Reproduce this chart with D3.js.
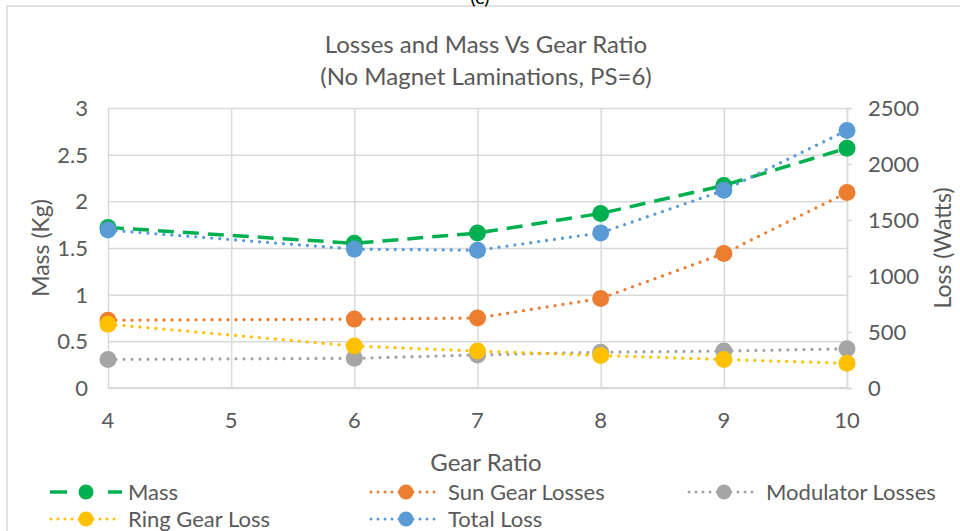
<!DOCTYPE html>
<html>
<head>
<meta charset="utf-8">
<script src="https://cdn.jsdelivr.net/npm/d3@7"></script>
<style>
  body { margin: 0; background: #fff; }
  text { font-family: Lato, "Open Sans", sans-serif; fill: #595959; }
</style>
</head>
<body>
<script>
// gear ratios on the x axis
var gearRatio = [4, 6, 7, 8, 9, 10];
// mass on left axis (kg)
var mass = [1.72, 1.55, 1.66, 1.87, 2.17, 2.57];
// losses on right axis (W)
var sunGearLosses = [605, 615, 625, 800, 1200, 1745];
var modulatorLosses = [255, 265, 295, 320, 330, 350];
var ringGearLoss = [570, 375, 330, 290, 255, 220];
var totalLoss = [1410, 1240, 1230, 1385, 1765, 2300];

var xTicks = [4, 5, 6, 7, 8, 9, 10];
var massTicks = [0, 0.5, 1, 1.5, 2, 2.5, 3];
var lossTicks = [0, 500, 1000, 1500, 2000, 2500];

var W = 960, H = 531;
var plot = {left: 108, right: 847, top: 108, bottom: 388};

var svg = d3.select('body').append('svg')
    .attr('width', W)
    .attr('height', H);

// chart border
svg.append('rect')
    .attr('x', 7).attr('y', 6)
    .attr('width', W + 20).attr('height', H + 20)
    .attr('fill', 'none')
    .attr('stroke', '#d9d9d9')
    .attr('stroke-width', 1.5);

// bit of the caption above, cut off like in the source
svg.append('text')
    .attr('x', 480).attr('y', 4)
    .attr('text-anchor', 'middle')
    .style('font-size', '20px')
    .style('fill', '#000')
    .text('(c)');

var x = d3.scaleLinear().domain([4, 10]).range([plot.left, plot.right]);
var yMass = d3.scaleLinear().domain([0, 3]).range([plot.bottom, plot.top]);
var yLoss = d3.scaleLinear().domain([0, 2500]).range([plot.bottom, plot.top]);

// gridlines
svg.append('g')
    .attr('transform', 'translate(0,' + plot.bottom + ')')
    .call(d3.axisBottom(x).tickValues(xTicks).tickSize(-(plot.bottom - plot.top)).tickFormat(''))
    .call(g => g.select('.domain').remove())
    .selectAll('line').attr('stroke', '#d9d9d9').attr('stroke-width', 1.5);

svg.append('g')
    .attr('transform', 'translate(' + plot.left + ',0)')
    .call(d3.axisLeft(yMass).tickValues(massTicks).tickSize(-(plot.right - plot.left)).tickFormat(''))
    .call(g => g.select('.domain').remove())
    .selectAll('line').attr('stroke', '#d9d9d9').attr('stroke-width', 1.5);

// right axis line + small ticks
svg.append('g')
    .attr('transform', 'translate(' + plot.right + ',0)')
    .call(d3.axisRight(yLoss).tickValues(lossTicks).tickSize(5).tickFormat(''))
    .call(g => g.select('.domain').attr('stroke', '#d9d9d9').attr('stroke-width', 1.5))
    .selectAll('line').attr('stroke', '#d9d9d9').attr('stroke-width', 1.5);

// bottom axis line
svg.append('line')
    .attr('x1', plot.left).attr('x2', plot.right)
    .attr('y1', plot.bottom).attr('y2', plot.bottom)
    .attr('stroke', '#d9d9d9').attr('stroke-width', 2);

// tick labels
svg.selectAll('.xlab').data(xTicks).enter().append('text')
    .attr('x', d => x(d)).attr('y', 428)
    .attr('text-anchor', 'middle')
    .style('font-size', '22px')
    .text(d => d);

svg.selectAll('.ylab').data(massTicks).enter().append('text')
    .attr('x', 88).attr('y', d => yMass(d) + 8)
    .attr('text-anchor', 'end')
    .style('font-size', '22px')
    .text(d => d);

svg.selectAll('.y2lab').data(lossTicks).enter().append('text')
    .attr('x', 868).attr('y', d => yLoss(d) + 8)
    .style('font-size', '22px')
    .text(d => d);

// titles
svg.append('text').attr('x', 486).attr('y', 53).attr('text-anchor', 'middle')
    .style('font-size', '24px').text('Losses and Mass Vs Gear Ratio');
svg.append('text').attr('x', 486).attr('y', 85).attr('text-anchor', 'middle')
    .style('font-size', '24px').text('(No Magnet Laminations, PS=6)');

svg.append('text').attr('x', 486).attr('y', 471).attr('text-anchor', 'middle')
    .style('font-size', '24px').text('Gear Ratio');

svg.append('text')
    .attr('transform', 'translate(49,248) rotate(-90)')
    .attr('text-anchor', 'middle')
    .style('font-size', '23px').text('Mass (Kg)');

svg.append('text')
    .attr('transform', 'translate(951,248) rotate(-90)')
    .attr('text-anchor', 'middle')
    .style('font-size', '23px').text('Loss (Watts)');

var dotted = '0 8';
var series = [
  {name: 'Mass', values: mass, y: yMass, color: '#00b050', dash: '16 9', width: 3.5, cap: 'butt'},
  {name: 'Sun Gear Losses', values: sunGearLosses, y: yLoss, color: '#ed7d31', dash: dotted, width: 3.3, cap: 'round'},
  {name: 'Modulator Losses', values: modulatorLosses, y: yLoss, color: '#a5a5a5', dash: dotted, width: 3.3, cap: 'round'},
  {name: 'Ring Gear Loss', values: ringGearLoss, y: yLoss, color: '#ffc000', dash: dotted, width: 3.3, cap: 'round'},
  {name: 'Total Loss', values: totalLoss, y: yLoss, color: '#5b9bd5', dash: dotted, width: 3.3, cap: 'round'}
];

series.forEach(function(s) {
  var pts = gearRatio.map((g, i) => [g, s.values[i]]);
  var line = d3.line().x(d => x(d[0])).y(d => s.y(d[1]));
  svg.append('path')
      .attr('d', line(pts))
      .attr('fill', 'none')
      .attr('stroke', s.color)
      .attr('stroke-width', s.width)
      .attr('stroke-dasharray', s.dash)
      .attr('stroke-linecap', s.cap);
  svg.append('g').selectAll('circle').data(pts).enter().append('circle')
      .attr('cx', d => x(d[0]))
      .attr('cy', d => s.y(d[1]))
      .attr('r', 8.5)
      .attr('fill', s.color);
});

// legend
var legendPos = [
  {x: 50, y: 492}, {x: 370, y: 492}, {x: 688, y: 492},
  {x: 50, y: 519}, {x: 370, y: 519}
];
series.forEach(function(s, i) {
  var p = legendPos[i];
  var g = svg.append('g').attr('transform', 'translate(' + p.x + ',' + p.y + ')');
  if (s.cap === 'butt') {
    g.append('line').attr('x1', 0).attr('x2', 17).attr('stroke', s.color).attr('stroke-width', 3.5);
    g.append('line').attr('x1', 58).attr('x2', 72).attr('stroke', s.color).attr('stroke-width', 3.5);
  } else {
    g.append('line').attr('x1', 1).attr('x2', 70)
        .attr('stroke', s.color).attr('stroke-width', 3)
        .attr('stroke-dasharray', '0 7').attr('stroke-linecap', 'round');
  }
  g.append('circle').attr('cx', 36).attr('cy', 0).attr('r', 7.5).attr('fill', s.color);
  g.append('text').attr('x', 78).attr('y', 8).style('font-size', '22px').text(s.name);
});
</script>
</body>
</html>
